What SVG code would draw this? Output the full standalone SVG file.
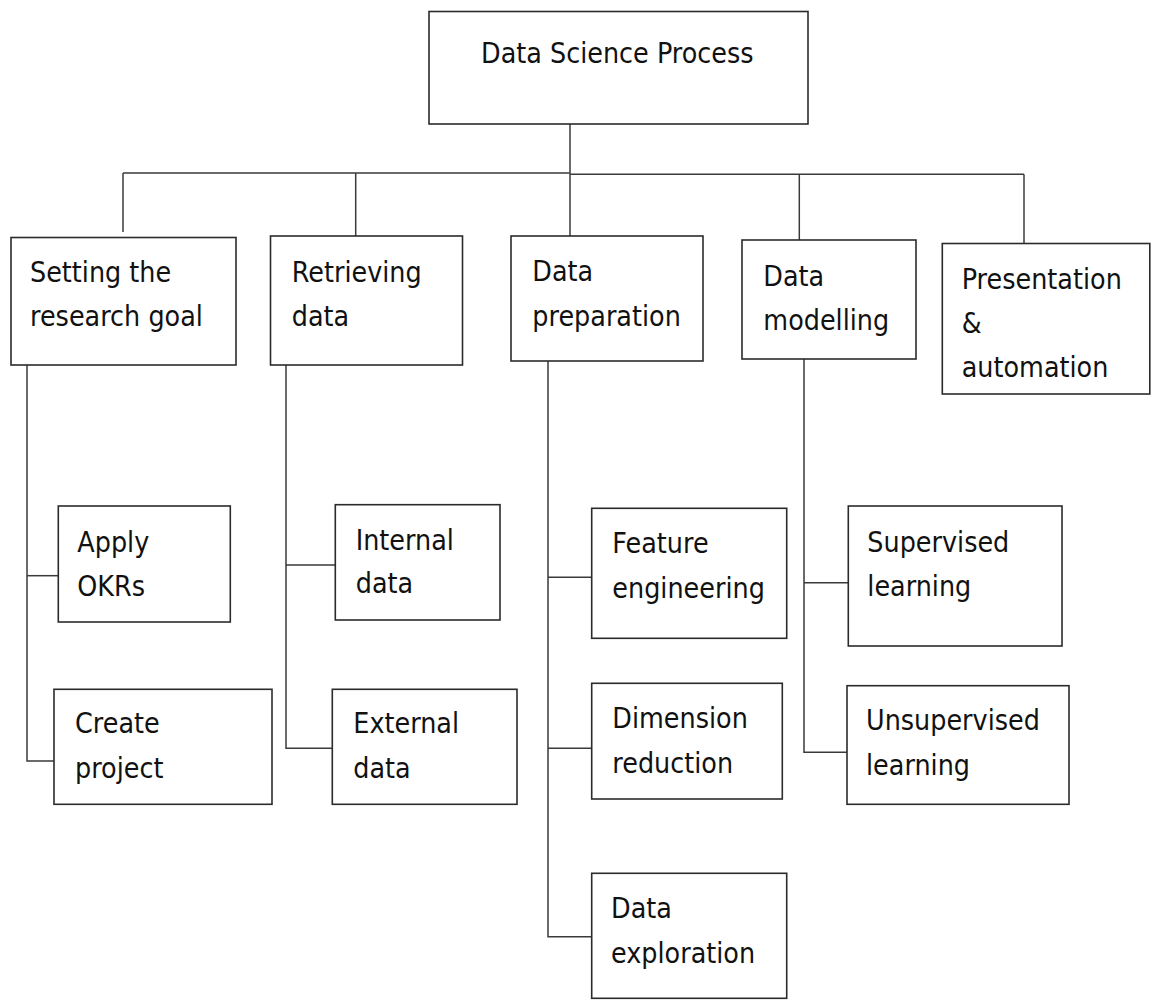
<svg xmlns="http://www.w3.org/2000/svg" width="1152" height="1000" viewBox="0 0 1152 1000">
  <style>
    .box { fill: #ffffff; stroke: #2b2b2b; stroke-width: 1.6; }
    .lbl { font-family: "DejaVu Sans", Verdana, sans-serif; font-size: 25.5px; fill: #111111; }
    .wire { fill: none; stroke: #3a3a3a; stroke-width: 1.5; }
  </style>
  <rect width="1152" height="1000" fill="#ffffff"/>

  <!-- connectors -->
  <g id="connectors">
    <!-- root trunk and bus -->
    <path class="wire" d="M570,124 V173.5"/>
    <path class="wire" d="M123,173 H570"/>
    <path class="wire" d="M570,174.3 H1024"/>
    <path class="wire" d="M123,173 V232"/>
    <path class="wire" d="M355.7,173 V236"/>
    <path class="wire" d="M570,173.5 V236"/>
    <path class="wire" d="M799.3,174.3 V240"/>
    <path class="wire" d="M1024,174.3 V243.5"/>
    <!-- Setting the research goal branches -->
    <path class="wire" d="M27,365 V761 H54"/>
    <path class="wire" d="M27,575.7 H58"/>
    <!-- Retrieving data branches -->
    <path class="wire" d="M286,365 V748.3 H332"/>
    <path class="wire" d="M286,565 H335"/>
    <!-- Data preparation branches -->
    <path class="wire" d="M548,361 V936.7 H592"/>
    <path class="wire" d="M548,577.3 H592"/>
    <path class="wire" d="M548,748.3 H592"/>
    <!-- Data modelling branches -->
    <path class="wire" d="M804,359 V752.3 H847"/>
    <path class="wire" d="M804,582.7 H848"/>
  </g>

  <!-- root -->
  <g id="root">
    <rect class="box" x="429" y="11.5" width="379" height="112.5"/>
    <text class="lbl" transform="translate(481,63) scale(1,1.12)">Data Science Process</text>
  </g>

  <!-- first level -->
  <g id="goal">
    <rect class="box" x="11" y="237.5" width="225" height="127.5"/>
    <text class="lbl" transform="translate(30,281.7) scale(1,1.12)"><tspan x="0">Setting the</tspan><tspan x="0" dy="39.5">research goal</tspan></text>
  </g>
  <g id="retrieve">
    <rect class="box" x="270.5" y="236" width="192" height="129"/>
    <text class="lbl" transform="translate(291.7,281.7) scale(1,1.12)"><tspan x="0">Retrieving</tspan><tspan x="0" dy="39.5">data</tspan></text>
  </g>
  <g id="prep">
    <rect class="box" x="511" y="236" width="192" height="125"/>
    <text class="lbl" transform="translate(532.3,281.3) scale(1,1.12)"><tspan x="0">Data</tspan><tspan x="0" dy="39.5">preparation</tspan></text>
  </g>
  <g id="model">
    <rect class="box" x="742" y="240" width="174" height="119"/>
    <text class="lbl" transform="translate(763.3,285.5) scale(1,1.12)"><tspan x="0">Data</tspan><tspan x="0" dy="39.8">modelling</tspan></text>
  </g>
  <g id="present">
    <rect class="box" x="942.3" y="243.5" width="207.5" height="150.5"/>
    <text class="lbl" transform="translate(961.7,289) scale(1,1.12)"><tspan x="0">Presentation</tspan><tspan x="0" dy="39.2">&amp;</tspan><tspan x="0" dy="39.5">automation</tspan></text>
  </g>

  <!-- second level: research goal -->
  <g id="okrs">
    <rect class="box" x="58.3" y="506" width="172" height="116"/>
    <text class="lbl" transform="translate(77.3,551.7) scale(1,1.12)"><tspan x="0">Apply</tspan><tspan x="0" dy="39.5">OKRs</tspan></text>
  </g>
  <g id="project">
    <rect class="box" x="54" y="689.3" width="218" height="115"/>
    <text class="lbl" transform="translate(75,733.3) scale(1,1.12)"><tspan x="0">Create</tspan><tspan x="0" dy="39.6">project</tspan></text>
  </g>

  <!-- second level: retrieving data -->
  <g id="internal">
    <rect class="box" x="335.3" y="504.7" width="164.7" height="115.3"/>
    <text class="lbl" transform="translate(355.7,550) scale(1,1.12)"><tspan x="0">Internal</tspan><tspan x="0" dy="38.8">data</tspan></text>
  </g>
  <g id="external">
    <rect class="box" x="332.3" y="689.3" width="184.7" height="115"/>
    <text class="lbl" transform="translate(353.3,733.3) scale(1,1.12)"><tspan x="0">External</tspan><tspan x="0" dy="39.6">data</tspan></text>
  </g>

  <!-- second level: data preparation -->
  <g id="feature">
    <rect class="box" x="591.7" y="508.3" width="195" height="130"/>
    <text class="lbl" transform="translate(612.3,553.3) scale(1,1.12)"><tspan x="0">Feature</tspan><tspan x="0" dy="39.6">engineering</tspan></text>
  </g>
  <g id="dimension">
    <rect class="box" x="591.7" y="683.3" width="190.6" height="115.7"/>
    <text class="lbl" transform="translate(612.3,728.3) scale(1,1.12)"><tspan x="0">Dimension</tspan><tspan x="0" dy="40">reduction</tspan></text>
  </g>
  <g id="explore">
    <rect class="box" x="591.7" y="873.3" width="195" height="125"/>
    <text class="lbl" transform="translate(611,918.3) scale(1,1.12)"><tspan x="0">Data</tspan><tspan x="0" dy="40">exploration</tspan></text>
  </g>

  <!-- second level: data modelling -->
  <g id="supervised">
    <rect class="box" x="848.3" y="506" width="213.7" height="140"/>
    <text class="lbl" transform="translate(867.3,551.7) scale(1,1.12)"><tspan x="0">Supervised</tspan><tspan x="0" dy="40">learning</tspan></text>
  </g>
  <g id="unsupervised">
    <rect class="box" x="847" y="685.7" width="222" height="118.6"/>
    <text class="lbl" transform="translate(866,730) scale(1,1.12)"><tspan x="0">Unsupervised</tspan><tspan x="0" dy="40">learning</tspan></text>
  </g>
</svg>
